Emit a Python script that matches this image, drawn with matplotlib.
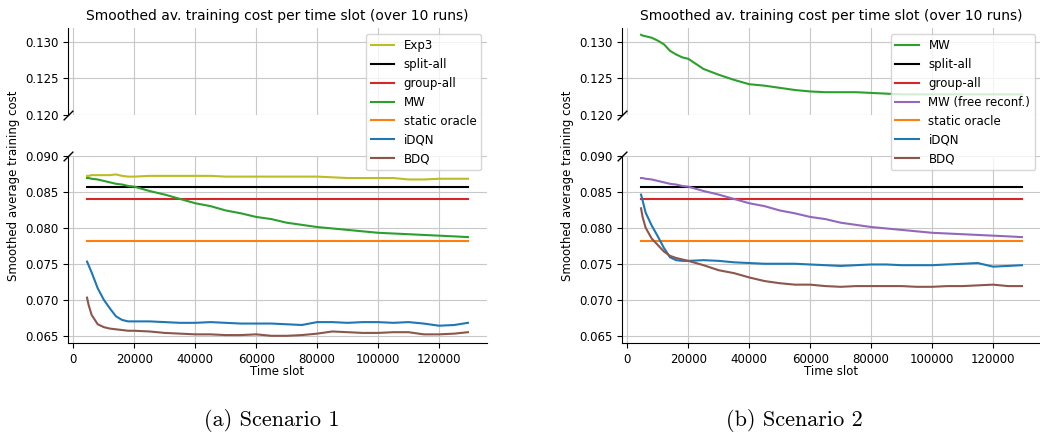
import matplotlib
matplotlib.use("Agg")
import matplotlib.pyplot as plt

# ---------------- data ----------------
time_slots = [4500, 5000, 6000, 8000, 10000, 12000, 14000, 16000, 18000, 20000,
              25000, 30000, 35000, 40000, 45000, 50000, 55000, 60000, 65000, 70000,
              75000, 80000, 85000, 90000, 95000, 100000, 105000, 110000, 115000,
              120000, 125000, 129500]
x_range = [4500, 129500]

split_all = 0.0856
group_all = 0.0840
static_oracle = 0.0781

# Scenario 1
s1_exp3 = [0.0872, 0.0872, 0.0873, 0.0873, 0.0873, 0.0873, 0.0874, 0.0872, 0.0871, 0.0871,
           0.0872, 0.0872, 0.0872, 0.0872, 0.0872, 0.0871, 0.0871, 0.0871, 0.0871, 0.0871,
           0.0871, 0.0871, 0.0870, 0.0869, 0.0869, 0.0869, 0.0869, 0.0867, 0.0867,
           0.0868, 0.0868, 0.0868]
s1_mw = [0.0869, 0.0869, 0.0868, 0.0867, 0.0865, 0.0863, 0.0861, 0.0860, 0.0858, 0.0857,
         0.0851, 0.0846, 0.0840, 0.0834, 0.0830, 0.0824, 0.0820, 0.0815, 0.0812, 0.0807,
         0.0804, 0.0801, 0.0799, 0.0797, 0.0795, 0.0793, 0.0792, 0.0791, 0.0790,
         0.0789, 0.0788, 0.0787]
s1_idqn = [0.0753, 0.0748, 0.0738, 0.0716, 0.0700, 0.0688, 0.0677, 0.0672, 0.0670, 0.0670,
           0.0670, 0.0669, 0.0668, 0.0668, 0.0669, 0.0668, 0.0667, 0.0667, 0.0667, 0.0666,
           0.0665, 0.0669, 0.0669, 0.0668, 0.0669, 0.0669, 0.0668, 0.0669, 0.0667,
           0.0664, 0.0665, 0.0668]
s1_bdq = [0.0703, 0.0693, 0.0679, 0.0666, 0.0662, 0.0660, 0.0659, 0.0658, 0.0657, 0.0657,
          0.0656, 0.0654, 0.0653, 0.0652, 0.0652, 0.0651, 0.0651, 0.0652, 0.0650, 0.0650,
          0.0651, 0.0653, 0.0656, 0.0655, 0.0654, 0.0654, 0.0655, 0.0655, 0.0652,
          0.0652, 0.0653, 0.0655]

# Scenario 2
s2_mw = [0.1310, 0.1309, 0.1308, 0.1306, 0.1302, 0.1297, 0.1288, 0.1283, 0.1279, 0.1277,
         0.1263, 0.1255, 0.1248, 0.1242, 0.1240, 0.1237, 0.1234, 0.1232, 0.1231, 0.1231,
         0.1231, 0.1230, 0.1229, 0.1228, 0.1228, 0.1228, 0.1228, 0.1228, 0.1228,
         0.1228, 0.1228, 0.1228]
s2_mw_free = [0.0869, 0.0869, 0.0868, 0.0867, 0.0865, 0.0863, 0.0861, 0.0860, 0.0858, 0.0857,
              0.0851, 0.0846, 0.0840, 0.0834, 0.0830, 0.0824, 0.0820, 0.0815, 0.0812, 0.0807,
              0.0804, 0.0801, 0.0799, 0.0797, 0.0795, 0.0793, 0.0792, 0.0791, 0.0790,
              0.0789, 0.0788, 0.0787]
s2_idqn = [0.0846, 0.0838, 0.0821, 0.0803, 0.0788, 0.0772, 0.0759, 0.0755, 0.0754, 0.0754,
           0.0755, 0.0754, 0.0752, 0.0751, 0.0750, 0.0750, 0.0750, 0.0749, 0.0748, 0.0747,
           0.0748, 0.0749, 0.0749, 0.0748, 0.0748, 0.0748, 0.0749, 0.0750, 0.0751,
           0.0746, 0.0747, 0.0748]
s2_bdq = [0.0827, 0.0815, 0.0800, 0.0785, 0.0776, 0.0767, 0.0761, 0.0758, 0.0756, 0.0754,
          0.0748, 0.0741, 0.0737, 0.0731, 0.0726, 0.0723, 0.0721, 0.0721, 0.0719, 0.0718,
          0.0719, 0.0719, 0.0719, 0.0719, 0.0718, 0.0718, 0.0719, 0.0719, 0.0720,
          0.0721, 0.0719, 0.0719]

title_text = "Smoothed av. training cost per time slot (over 10 runs)"
ylabel_text = "Smoothed average training cost"
xlabel_text = "Time slot"
captions = ["(a) Scenario 1", "(b) Scenario 2"]
xticks = [0, 20000, 40000, 60000, 80000, 100000, 120000]
top_yticks = [0.120, 0.125, 0.130]
bot_yticks = [0.065, 0.070, 0.075, 0.080, 0.085, 0.090]

# ---------------- figure ----------------
FS = 8.5
plt.rcParams["font.size"] = FS
fig = plt.figure(figsize=(10.4, 4.33), dpi=100)

C = {"Exp3": "#bcbd22", "split-all": "black", "group-all": "#d62728",
     "MW": "#2ca02c", "MW (free reconf.)": "#9467bd", "static oracle": "#ff7f0e",
     "iDQN": "#1f77b4", "BDQ": "#8c564b"}

panels = [
    (68 / 1040, [("Exp3", time_slots, s1_exp3), ("split-all", x_range, [split_all] * 2),
                 ("group-all", x_range, [group_all] * 2), ("MW", time_slots, s1_mw),
                 ("static oracle", x_range, [static_oracle] * 2),
                 ("iDQN", time_slots, s1_idqn), ("BDQ", time_slots, s1_bdq)]),
    (622 / 1040, [("MW", time_slots, s2_mw), ("split-all", x_range, [split_all] * 2),
                  ("group-all", x_range, [group_all] * 2),
                  ("MW (free reconf.)", time_slots, s2_mw_free),
                  ("static oracle", x_range, [static_oracle] * 2),
                  ("iDQN", time_slots, s2_idqn), ("BDQ", time_slots, s2_bdq)]),
]

width = 419 / 1040
for i, (left, series) in enumerate(panels):
    ax_b = fig.add_axes([left, 1 - 343 / 433, width, (343 - 155.7) / 433])
    ax_t = fig.add_axes([left, 1 - 114.7 / 433, width, (114.7 - 28.3) / 433], sharex=ax_b)
    ax_t.set_zorder(3)
    ax_t.patch.set_alpha(0)
    for name, xs, ys in series:
        for ax in (ax_t, ax_b):
            ax.plot(xs, ys, color=C[name], lw=1.5, label=name)
    ax_t.set_ylim(0.120, 0.1319)
    ax_b.set_ylim(0.0640, 0.0900)
    ax_b.set_xticks(xticks)
    ax_t.set_yticks(top_yticks)
    ax_b.set_yticks(bot_yticks)
    ax_t.yaxis.set_major_formatter(matplotlib.ticker.FormatStrFormatter("%.3f"))
    ax_b.yaxis.set_major_formatter(matplotlib.ticker.FormatStrFormatter("%.3f"))
    for ax in (ax_t, ax_b):
        ax.grid(True, color="#c8c8c8", lw=0.8)
        ax.set_axisbelow(True)
        ax.spines["top"].set_visible(False)
        ax.spines["right"].set_visible(False)
    ax_t.spines["bottom"].set_visible(False)
    ax_t.tick_params(bottom=False, labelbottom=False)
    ax_b.set_xlabel(xlabel_text, labelpad=-0.5)
    ax_t.set_title(title_text, fontsize=10)
    ax_t.legend(loc="upper right", fontsize=FS)
    kw = dict(marker=[(-1, -1), (1, 1)], markersize=7, linestyle="none",
              color="k", mec="k", mew=1, clip_on=False)
    ax_t.plot([0], [0], transform=ax_t.transAxes, **kw)
    ax_b.plot([0], [1], transform=ax_b.transAxes, **kw)
    fig.text(left - 54 / 1040, 1 - 185.5 / 433, ylabel_text, rotation=90,
             ha="center", va="center", fontsize=FS)

fig.text(271.5 / 1040, 1 - 420 / 433, captions[0], ha="center", va="center",
         fontfamily="cmr10", fontsize=16)
fig.text(794.5 / 1040, 1 - 420 / 433, captions[1], ha="center", va="center",
         fontfamily="cmr10", fontsize=16)

fig.savefig("out.png", dpi=100)
